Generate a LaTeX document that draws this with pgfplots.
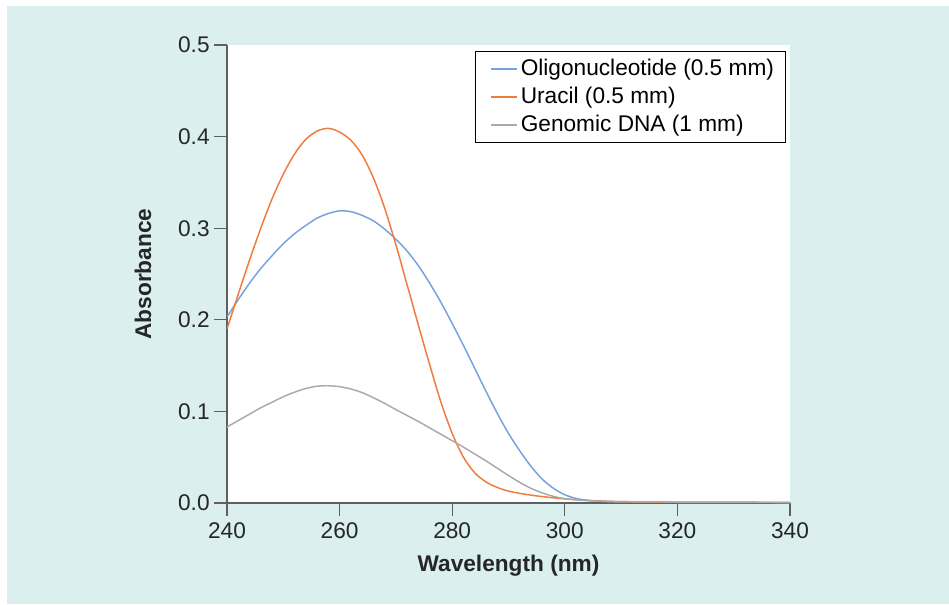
\documentclass[border=0pt]{standalone}
\usepackage{fontspec}
\setmainfont{Liberation Sans}
\usepackage{pgfplots}
\pgfplotsset{compat=1.18}
\definecolor{panel}{RGB}{219,239,239}
\definecolor{oligo}{RGB}{116,163,222}
\definecolor{uracil}{RGB}{242,122,60}
\definecolor{gdna}{RGB}{170,170,170}
\definecolor{axgray}{RGB}{95,95,95}
\begin{document}
\begin{tikzpicture}
\fill[white] (-170.25pt,-75.75pt) rectangle (541.5pt,377.25pt);
\fill[panel] (-165pt,-75.75pt) rectangle (541.5pt,372.75pt);
\begin{axis}[
  at={(0pt,0pt)}, anchor=south west,
  scale only axis, width=422.25pt, height=343.5pt,
  xmin=240, xmax=340, ymin=0, ymax=0.5,
  axis lines*=left,
  axis line style={axgray, line width=1pt},
  axis background/.style={fill=white},
  xtick={240,260,...,340},
  ytick={0,0.1,0.2,0.3,0.4,0.5},
  tick align=outside,
  major tick length=9.5pt,
  tick style={axgray, line width=1pt},
  yticklabel style={/pgf/number format/fixed,/pgf/number format/precision=1,/pgf/number format/fixed zerofill},
  /pgf/number format/assume math mode=true,
  ticklabel style={font=\fontsize{17}{20}\selectfont, text=black!85},
  xticklabel style={yshift=-2pt},
  xlabel={Wavelength (nm)},
  ylabel={Absorbance},
  label style={font=\fontsize{17}{20}\selectfont\bfseries, text=black!85},
  xlabel style={at={(axis description cs:0.5,-0.137)}, anchor=center},
  ylabel style={at={(axis description cs:-0.149,0.5)}, anchor=center},
  legend style={at={(0.991,0.985)}, anchor=north east, draw=none, fill=white, name=leg,
    font=\fontsize{17}{20}\selectfont, row sep=0pt, inner xsep=6pt, inner ysep=2.25pt,
    nodes={inner sep=2pt, text height=13.5pt, text depth=3.5pt}},
  legend cell align=left,
  legend image code/.code={\path (-5.25pt,0pt); \draw[line width=1pt] (0pt,0pt) -- (19.5pt,0pt);},
  every axis plot/.append style={line width=1.1pt},
]
\addplot[draw=oligo, smooth]
coordinates {
(240,0.203) (242,0.222) (244,0.240) (246,0.256) (248,0.270) (250,0.283)
(252,0.294) (254,0.303) (256,0.311) (258,0.316) (260,0.319) (262,0.318)
(264,0.314) (266,0.308) (268,0.299) (270,0.288) (272,0.275) (274,0.259)
(276,0.240) (278,0.219) (280,0.196) (282,0.172) (284,0.147) (286,0.122)
(288,0.098) (290,0.076) (292,0.057) (294,0.040) (296,0.026) (298,0.016)
(300,0.009) (302,0.005) (304,0.003) (307,0.0018) (310,0.0012) (320,0.0008) (340,0.0005)
};
\addlegendentry{Oligonucleotide (0.5 mm)}
\addplot[draw=uracil, smooth]
coordinates {
(240,0.190) (242,0.228) (244,0.265) (246,0.300) (248,0.332) (250,0.359)
(252,0.381) (254,0.397) (256,0.406) (258,0.409) (260,0.405) (262,0.396)
(264,0.380) (266,0.355) (268,0.322) (270,0.282) (272,0.238) (274,0.194)
(276,0.151) (278,0.110) (280,0.076) (282,0.050) (284,0.033) (286,0.023)
(288,0.017) (290,0.013) (293,0.0095) (296,0.007) (300,0.0045) (305,0.0025)
(310,0.0015) (320,0.0008) (340,0.0005)
};
\addlegendentry{Uracil (0.5 mm)}
\addplot[draw=gdna, smooth]
coordinates {
(240,0.083) (242,0.090) (244,0.097) (246,0.104) (248,0.110) (250,0.116)
(252,0.121) (254,0.125) (256,0.1275) (258,0.128) (260,0.127) (262,0.1245)
(264,0.1205) (266,0.1150) (268,0.1088) (270,0.102) (272,0.0955) (274,0.089)
(276,0.082) (278,0.075) (280,0.068) (282,0.061) (284,0.0535) (286,0.046)
(288,0.038) (290,0.030) (292,0.0225) (294,0.016) (296,0.011) (298,0.0072)
(300,0.0048) (303,0.003) (306,0.002) (310,0.0015) (320,0.001) (340,0.0008)
};
\addlegendentry{Genomic DNA (1 mm)}
\end{axis}
\draw[black, line width=0.6pt] (leg.south west) rectangle (leg.north east);
\end{tikzpicture}
\end{document}
